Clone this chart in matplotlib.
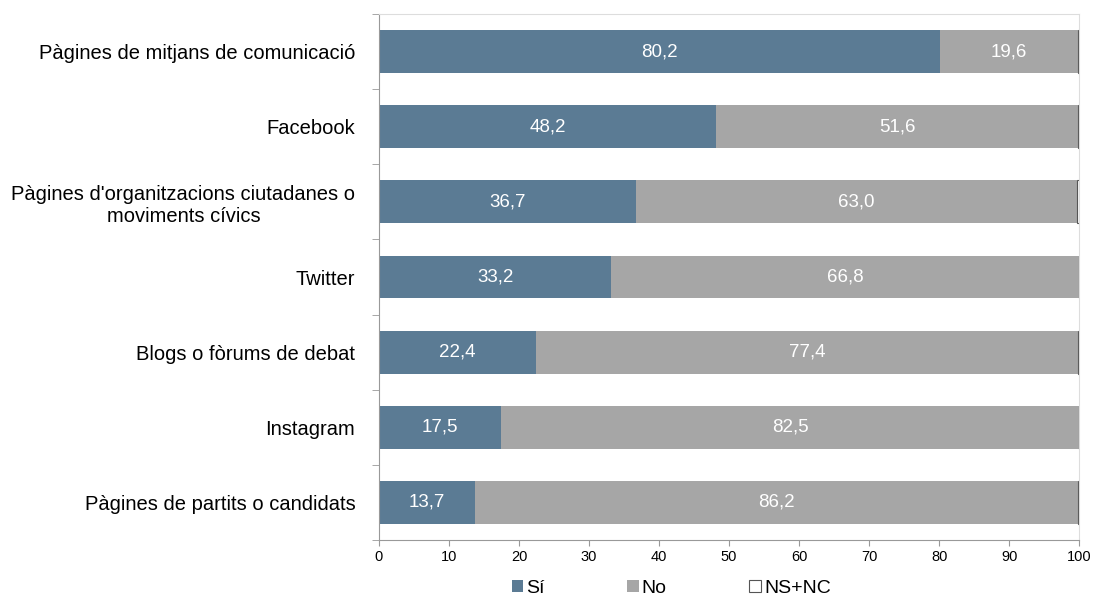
import matplotlib.pyplot as plt
from matplotlib.patches import Patch

plt.rcParams['font.family'] = ['Liberation Sans', 'DejaVu Sans']

categories = [
    "Pàgines de mitjans de comunicació",
    "Facebook",
    "Pàgines d'organitzacions ciutadanes o\nmoviments cívics",
    "Twitter",
    "Blogs o fòrums de debat",
    "Instagram",
    "Pàgines de partits o candidats",
]
si_values = [80.2, 48.2, 36.7, 33.2, 22.4, 17.5, 13.7]
no_values = [19.6, 51.6, 63.0, 66.8, 77.4, 82.5, 86.2]
nsnc_values = [0.2, 0.2, 0.3, 0.0, 0.2, 0.0, 0.1]

si_color = "#5b7b94"
no_color = "#a6a6a6"


def plot_chart():
    fig = plt.figure(figsize=(10.94, 5.95), dpi=100)
    ax = fig.add_axes([0.3464, 0.0924, 0.64, 0.8841])

    y = list(range(len(categories)))
    h = 0.57
    ax.barh(y, si_values, height=h, color=si_color, label="Sí")
    ax.barh(y, no_values, left=si_values, height=h, color=no_color, label="No")
    left3 = [a + b for a, b in zip(si_values, no_values)]
    ax.barh(y, nsnc_values, left=left3, height=h, color="white",
            edgecolor="#555555", linewidth=0.8, label="NS+NC")

    # value labels
    for i in y:
        ax.text(si_values[i] / 2, i, f"{si_values[i]:.1f}".replace(".", ","),
                ha="center", va="center", color="white", fontsize=13.5)
        ax.text(si_values[i] + no_values[i] / 2, i,
                f"{no_values[i]:.1f}".replace(".", ","),
                ha="center", va="center", color="white", fontsize=13.5)

    ax.set_ylim(len(categories) - 0.5, -0.5)
    ax.set_xlim(0, 100)
    ax.set_xticks(range(0, 101, 10))
    ax.tick_params(axis="x", labelsize=10.5, length=4, color="#999999", pad=3)

    # category labels, ticks on boundaries
    ax.set_yticks(y)
    ax.set_yticklabels(categories, fontsize=14.5, ha="right",
                       multialignment="center")
    ax.tick_params(axis="y", which="major", length=0, pad=17)
    ax.set_yticks([k - 0.5 for k in range(len(categories) + 1)], minor=True)
    ax.tick_params(axis="y", which="minor", length=5, color="#999999")

    for side in ["top", "right"]:
        ax.spines[side].set_color("#dddddd")
    for side in ["left", "bottom"]:
        ax.spines[side].set_color("#999999")

    handles = [
        Patch(facecolor=si_color, label="Sí"),
        Patch(facecolor=no_color, label="No"),
        Patch(facecolor="white", edgecolor="#555555", linewidth=0.8, label="NS+NC"),
    ]
    fig.legend(handles=handles, loc="lower center", ncol=3, frameon=False,
               bbox_to_anchor=(0.6135, -0.032), fontsize=14,
               handlelength=0.6, handleheight=0.6, handletextpad=0.15,
               columnspacing=4.25)

    fig.savefig("out.png", dpi=100)


def main():
    plot_chart()


main()
